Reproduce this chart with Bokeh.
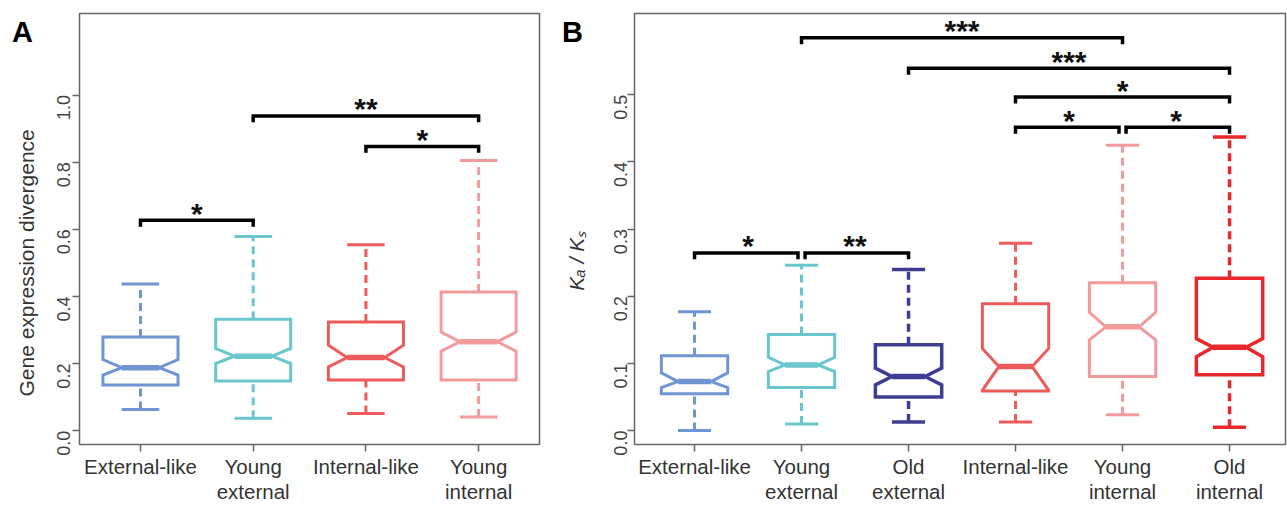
import math
from bokeh.plotting import figure
from bokeh.layouts import row
from bokeh.models import FixedTicker, Range1d, ColumnDataSource, PrintfTickFormatter
from bokeh.core.properties import value
from bokeh.embed import file_html
from bokeh.resources import INLINE

# ---------------- Panel A data ----------------
cats_a = ["External-like", "Young\nexternal", "Internal-like", "Young\ninternal"]
colors_a = ["#6F95D2", "#69C6CC", "#EE5B5B", "#F39A9B"]
wlo_a = [0.063, 0.0375, 0.051, 0.041]
q1_a = [0.136, 0.148, 0.151, 0.151]
nlo_a = [0.166, 0.200, 0.190, 0.237]
med_a = [0.188, 0.222, 0.218, 0.265]
nhi_a = [0.212, 0.245, 0.255, 0.294]
q3_a = [0.279, 0.332, 0.324, 0.413]
whi_a = [0.437, 0.579, 0.554, 0.805]
yticks_a = [0.0, 0.2, 0.4, 0.6, 0.8, 1.0]
ylabel_a = "Gene expression divergence"
br_from_a = [1, 2, 3]
br_to_a = [2, 4, 4]
br_y_a = [0.627, 0.938, 0.847]
br_lab_a = ["*", "**", "*"]

# ---------------- Panel B data ----------------
cats_b = ["External-like", "Young\nexternal", "Old\nexternal", "Internal-like", "Young\ninternal", "Old\ninternal"]
colors_b = ["#6F95D2", "#69C6CC", "#3D3D95", "#EE5B5B", "#F39A9B", "#E8282A"]
wlo_b = [0.0, 0.0099, 0.0128, 0.0128, 0.0237, 0.0049]
q1_b = [0.0548, 0.064, 0.050, 0.059, 0.0805, 0.083]
nlo_b = [0.064, 0.088, 0.068, 0.060, 0.135, 0.110]
med_b = [0.073, 0.0977, 0.0805, 0.0953, 0.1545, 0.124]
nhi_b = [0.086, 0.109, 0.093, 0.1224, 0.176, 0.137]
q3_b = [0.1115, 0.143, 0.128, 0.189, 0.220, 0.227]
whi_b = [0.177, 0.246, 0.240, 0.279, 0.425, 0.437]
yticks_b = [0.0, 0.1, 0.2, 0.3, 0.4, 0.5]
ylabel_b = "K\u2090 / K\u209b"
br_from_b = [2, 3, 4, 4, 5, 1, 2]
br_to_b = [5, 6, 6, 5, 6, 2, 3]
br_y_b = [0.585, 0.5395, 0.4965, 0.4516, 0.4516, 0.2646, 0.2646]
br_lab_b = ["***", "***", "*", "*", "*", "*", "**"]

FONT = "Liberation Sans"
H = 505


def make_panel(cats, colors, wlo, q1, nlo, med, nhi, q3, whi, yticks,
               bfrom, bto, by, blab, xr, yr, width, border_left, border_right,
               ylabel, ylabel_style, ylabel_pos, hw, lw_list, letter, letter_pos,
               tick_drop, ylab_standoff):
    p = figure(width=width, height=H, x_range=Range1d(*xr), y_range=Range1d(*yr),
               output_backend="svg", toolbar_location=None,
               min_border_left=border_left, min_border_right=border_right,
               min_border_top=13, min_border_bottom=58)
    p.grid.visible = False
    p.background_fill_color = "white"
    p.border_fill_color = "white"
    p.outline_line_color = "#666666"
    p.outline_line_width = 1.5

    n = len(cats)
    xs_c = list(range(1, n + 1))

    # whiskers (dashed)
    p.segment(x0=xs_c, y0=q3, x1=xs_c, y1=whi, line_color=colors, line_width=lw_list,
              line_dash="8 5")
    p.segment(x0=xs_c, y0=wlo, x1=xs_c, y1=q1, line_color=colors, line_width=lw_list,
              line_dash="8 5")
    # caps
    p.segment(x0=[x - hw / 2 for x in xs_c], y0=whi, x1=[x + hw / 2 for x in xs_c], y1=whi,
              line_color=colors, line_width=lw_list)
    p.segment(x0=[x - hw / 2 for x in xs_c], y0=wlo, x1=[x + hw / 2 for x in xs_c], y1=wlo,
              line_color=colors, line_width=lw_list)

    # notched boxes
    pxs, pys = [], []
    for i, x in enumerate(xs_c):
        pxs.append([x - hw, x - hw, x - hw / 2, x - hw, x - hw,
                    x + hw, x + hw, x + hw / 2, x + hw, x + hw])
        pys.append([q1[i], nlo[i], med[i], nhi[i], q3[i],
                    q3[i], nhi[i], med[i], nlo[i], q1[i]])
    src = ColumnDataSource(dict(xs=pxs, ys=pys, color=colors, lw=lw_list))
    p.patches(xs="xs", ys="ys", source=src, fill_color=None, line_color="color",
              line_width="lw", line_join="miter")
    # medians
    p.segment(x0=[x - hw / 2 for x in xs_c], y0=med, x1=[x + hw / 2 for x in xs_c], y1=med,
              line_color=colors, line_width=5.5)

    # significance brackets
    gap = 0.033
    bxs, bys, tx, ty = [], [], [], []
    for i in range(len(bfrom)):
        a, b = bfrom[i], bto[i]
        for j in range(len(bfrom)):
            if j != i and abs(by[j] - by[i]) < 1e-9:
                if bfrom[j] == b:
                    b = b - gap
                if bto[j] == a:
                    a = a + gap
        y = by[i]
        bxs.append([a, a, b, b])
        bys.append([y - tick_drop, y, y, y - tick_drop])
        tx.append((bfrom[i] + bto[i]) / 2)
        ty.append(y)
    p.multi_line(xs=bxs, ys=bys, line_color="black", line_width=3.5,
                 line_join="miter", line_cap="butt")
    p.text(x=tx, y=ty, text=blab, text_align="center", text_baseline="middle",
           text_font=value(FONT), text_font_size="30px", text_font_style="bold",
           text_color="#111111", y_offset=-7)

    # panel letter and y title (overlay level so they are not clipped to the frame)
    p.text(x=[letter_pos[0]], y=[letter_pos[1]], text=[letter], text_align="center",
           text_baseline="middle", text_font=value(FONT), text_font_size="29px",
           text_font_style="bold", text_color="black", level="overlay")
    p.text(x=[ylabel_pos[0]], y=[ylabel_pos[1]], text=[ylabel], angle=math.pi / 2,
           text_align="center", text_baseline="middle", text_font=value(FONT),
           text_font_size="21px", text_font_style=ylabel_style, text_color="#333333",
           level="overlay")

    # axes
    p.xaxis.ticker = FixedTicker(ticks=xs_c)
    p.xaxis.major_label_overrides = {i + 1: c for i, c in enumerate(cats)}
    p.xaxis.minor_tick_line_color = None
    p.xaxis.major_tick_out = 7
    p.xaxis.major_tick_in = 0
    p.xaxis.major_tick_line_color = "#666666"
    p.xaxis.major_tick_line_width = 1.5
    p.xaxis.axis_line_color = None
    p.xaxis.major_label_text_font = FONT
    p.xaxis.major_label_text_font_size = "20.5px"
    p.xaxis.major_label_text_color = "#333333"
    p.xaxis.major_label_standoff = 3
    p.xaxis.major_label_text_line_height = 1.1

    p.yaxis.ticker = FixedTicker(ticks=yticks)
    p.yaxis.formatter = PrintfTickFormatter(format="%.1f")
    p.yaxis.minor_tick_line_color = None
    p.yaxis.major_tick_out = 7
    p.yaxis.major_tick_in = 0
    p.yaxis.major_tick_line_color = "#666666"
    p.yaxis.major_tick_line_width = 1.5
    p.yaxis.axis_line_color = None
    p.yaxis.major_label_orientation = math.pi / 2
    p.yaxis.major_label_text_font = FONT
    p.yaxis.major_label_text_font_size = "18px"
    p.yaxis.major_label_text_color = "#444444"
    p.yaxis.major_label_standoff = ylab_standoff
    return p


pa = make_panel(cats_a, colors_a, wlo_a, q1_a, nlo_a, med_a, nhi_a, q3_a, whi_a, yticks_a,
                br_from_a, br_to_a, br_y_a, br_lab_a,
                xr=(0.459, 4.54), yr=(-0.041, 1.243), width=560, border_left=79,
                border_right=21, ylabel=ylabel_a, ylabel_style="normal",
                ylabel_pos=(-0.011, 0.5), hw=0.333, lw_list=[3, 3, 3, 3], letter="A",
                letter_pos=(-0.047, 1.187), tick_drop=0.019, ylab_standoff=9)

pb = make_panel(cats_b, colors_b, wlo_b, q1_b, nlo_b, med_b, nhi_b, q3_b, whi_b, yticks_b,
                br_from_b, br_to_b, br_y_b, br_lab_b,
                xr=(0.439, 6.523), yr=(-0.0207, 0.621), width=727, border_left=74,
                border_right=2, ylabel=ylabel_b, ylabel_style="italic",
                ylabel_pos=(-0.103, 0.253), hw=0.31, lw_list=[3, 3, 3.5, 3, 3, 3.5], letter="B",
                letter_pos=(-0.14, 0.593), tick_drop=0.0096, ylab_standoff=7)

layout = row(pa, pb)
open("out.html", "w").write(file_html(layout, INLINE))
